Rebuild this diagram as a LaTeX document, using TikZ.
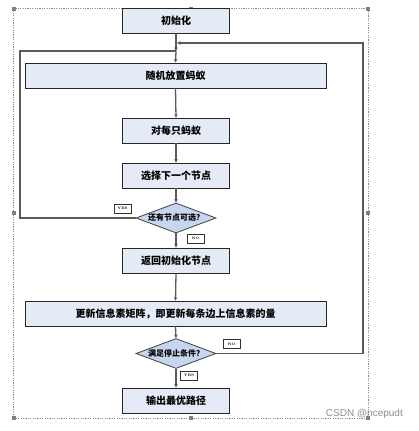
\documentclass[tikz,border=0pt]{standalone}
\usepackage{fontspec}
\newfontfamily\cjk{Noto Sans CJK SC}
\newfontfamily\wm{Liberation Sans}
\usetikzlibrary{shapes.geometric,arrows.meta}
\definecolor{boxfill}{HTML}{E4EBF7}
\definecolor{diafill}{HTML}{C6D6EF}
\definecolor{linegray}{HTML}{5A5A5A}
\definecolor{framegray}{HTML}{8C8C8C}
\definecolor{handle}{HTML}{7F7F7F}
\tikzset{
  procbox/.style={draw=black!85, line width=0.9pt, fill=boxfill, minimum height=25pt, inner sep=0pt, font=\cjk\bfseries\fontsize{10}{12}\selectfont},
  decbox/.style={diamond, draw=black!75, line width=0.8pt, fill=diafill, minimum width=80pt, minimum height=30pt, aspect=2.6, inner sep=0pt, font=\cjk\bfseries\fontsize{8}{10}\selectfont},
  tagbox/.style={draw=black!80, line width=0.6pt, fill=white, minimum width=17pt, minimum height=9pt, inner sep=0pt, font=\bfseries\fontsize{3.5}{4}\selectfont},
  flow/.style={draw=linegray, line width=1.3pt, -{Stealth[length=3.5pt,width=3.5pt]}},
  plain/.style={draw=linegray, line width=1.3pt},
  hdl/.style={fill=handle, minimum size=4pt, inner sep=0pt}
}
\begin{document}
\begin{tikzpicture}[x=1pt,y=-1pt]
\useasboundingbox (0,0) rectangle (418,431);
% selection frame
\draw[framegray, dash pattern=on 1.2pt off 1.2pt, line width=0.5pt] (13,8) rectangle (368,418);
\node[hdl] (h1) at (14,9) {};
\node[hdl] (h2) at (191,9) {};
\node[hdl] (h3) at (368,9) {};
\node[hdl] (h4) at (14,213) {};
\node[hdl] (h5) at (368,213) {};
\node[hdl] (h6) at (14,418) {};
\node[hdl] (h7) at (191,418) {};
\node[hdl] (h8) at (368,418) {};
% nodes
\node[procbox, minimum width=107pt] (init) at (176,20.5) {初始化};
\node[procbox, minimum width=301pt] (place) at (175.5,75.5) {随机放置蚂蚁};
\node[procbox, minimum width=107pt] (each) at (176,130.5) {对每只蚂蚁};
\node[procbox, minimum width=107pt] (next) at (176,175.5) {选择下一个节点};
\node[decbox] (more) at (176,218) {还有节点可选？};
\node[procbox, minimum width=107pt] (back) at (176,260.5) {返回初始化节点};
\node[procbox, minimum width=301pt] (upd) at (175.5,313.5) {更新信息素矩阵，即更新每条边上信息素的量};
\node[decbox] (stop) at (176,353.5) {满足停止条件？};
\node[procbox, minimum width=107pt] (out) at (176,400.5) {输出最优路径};
% tags
\node[tagbox] (yes1) at (122.5,208.5) {YES};
\node[tagbox] (no1) at (195.5,238.5) {NO};
\node[tagbox] (no2) at (231.5,344) {NO};
\node[tagbox] (yes2) at (189,375.5) {YES};
% junctions
\coordinate (j1) at (176,51);
\coordinate (j2) at (176,43);
\coordinate (lc) at (20,51);
\coordinate (rc) at (363,43);
% connectors
\draw[plain] (init.south) -- (j2);
\draw[flow] (j2) -- (j1);
\draw[flow] (j1) -- (place.north);
\draw[flow] (place.south) -- (each.north);
\draw[flow] (each.south) -- (next.north);
\draw[flow] (next.south) -- (more.north);
\draw[flow] (more.south) -- (back.north);
\draw[flow] (back.south) -- (upd.north);
\draw[flow] (upd.south) -- (stop.north);
\draw[flow] (stop.south) -- (out.north);
\draw[plain] (more.west) -| (lc) -- (j1);
\draw[flow] (stop.east) -| (rc) -- ([xshift=1pt]j2);
% watermark
\node[anchor=east, text=black!45, font=\wm\fontsize{10}{12}\selectfont, inner sep=0pt] (wmk) at (403,414) {CSDN @ncepudt};
\end{tikzpicture}
\end{document}
